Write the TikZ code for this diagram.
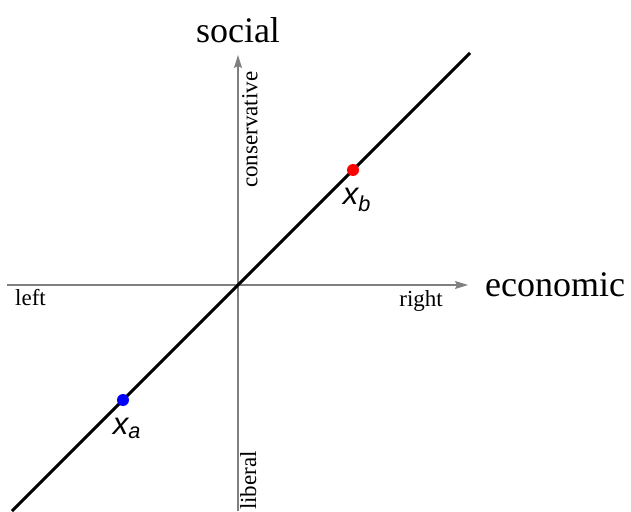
\documentclass[tikz,border=0pt]{standalone}
\usepackage{fontspec}
\setmainfont{Liberation Serif}
\newfontfamily\labelfont{Liberation Sans}
\usetikzlibrary{arrows.meta}

\begin{document}
\begin{tikzpicture}[x=1pt, y=1pt,
  axis/.style={gray, line width=1.2pt, -{Stealth[length=13pt, width=8pt, inset=2pt]}},
  small/.style={inner sep=0pt, font=\fontsize{23}{26}\selectfont},
  big/.style={inner sep=0pt, font=\fontsize{36}{40}\selectfont},
  pt/.style={circle, inner sep=0pt, minimum size=12pt},
  ptlabel/.style={inner sep=0pt, font=\labelfont\itshape\fontsize{31}{34}\selectfont}]
  \useasboundingbox (-238,-226) rectangle (393,285);
  % axes through O
  \coordinate (O) at (0,0);
  \coordinate (L) at (-231,0);
  \coordinate (R) at (230,0);
  \coordinate (Bot) at (0,-226);
  \coordinate (Top) at (0,230);
  \draw[axis] (L) -- (R);
  \draw[axis] (Bot) -- (Top);
  % line y = x
  \coordinate (P) at (-226,-226);
  \coordinate (Q) at (232,232);
  \draw[line width=3pt] (P) -- (Q);
  % the two points
  \node[pt, fill=blue] (Xa) at (-115,-115) {};
  \node[pt, fill=red] (Xb) at (115,115) {};
  \node[ptlabel, anchor=north] (la) at ([xshift=4pt, yshift=-18pt]Xa.center) {x\textsubscript{a}};
  \node[ptlabel, anchor=north] (lb) at ([xshift=4pt, yshift=-18pt]Xb.center) {x\textsubscript{b}};
  % axis names
  \node[big] (social) at (0,255) {social};
  \node[big, anchor=west] (econ) at (247,0) {economic};
  \node[small, anchor=north west] (left) at (-223,-4) {left};
  \node[small, anchor=north east] (right) at (205,-5) {right};
  \node[small, rotate=90, anchor=north west] (cons) at (4,97) {conservative};
  \node[small, rotate=90, anchor=north west] (lib) at (2,-225) {liberal};
\end{tikzpicture}
\end{document}
